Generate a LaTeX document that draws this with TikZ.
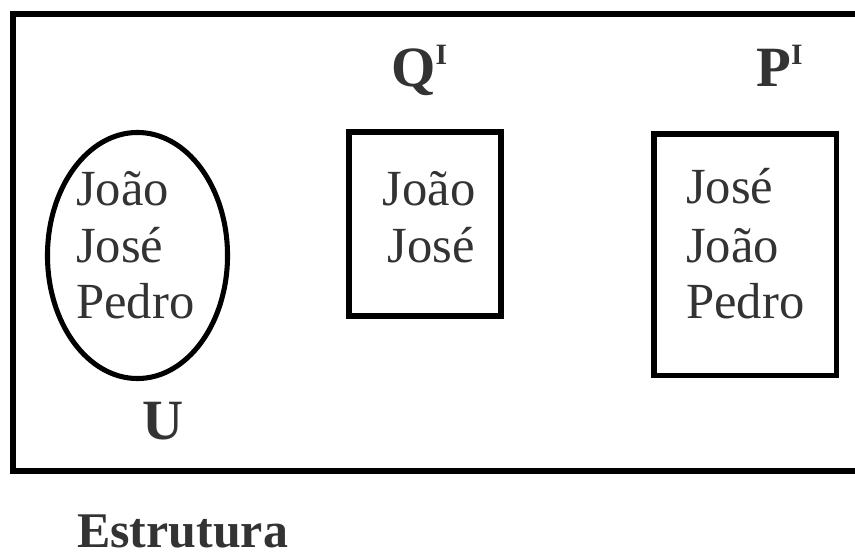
\documentclass[tikz,border=0pt]{standalone}
\usepackage{fontspec}
\setmainfont{Liberation Serif}
\usetikzlibrary{shapes.geometric, positioning}
\definecolor{inkgray}{HTML}{333333}
\newcommand{\interp}{\raisebox{15pt}{\fontsize{21}{21}\selectfont I}}

\begin{document}
\begin{tikzpicture}[
			x=0.025cm, y=-0.025cm,
			member/.style={font=\fontsize{36}{40}\selectfont, text=inkgray, inner sep=0pt, anchor=base west},
			setlabel/.style={font=\bfseries\fontsize{40.5}{44}\selectfont, text=inkgray, inner sep=0pt, anchor=base west},
			setbox/.style={rectangle, draw, line width=3.6pt, inner sep=0pt},
			]
			\useasboundingbox (0,0) rectangle (855,559);
			\clip (0,0) rectangle (855,559);
			
			% Frame of the structure
			\draw[line width=3.8pt] (900,14) -- (13,14) -- (13,471) -- (900,471);
			
			% Universe
			\node (U) [setbox, ellipse, minimum width=4.5cm, minimum height=6.15cm] at (137.5,255.5) {};
			\node (u1) [member] at (76,205) {João};
			\node (u2) [member] at (76,262) {José};
			\node (u3) [member] at (76,318) {Pedro};
			\node (Ulabel) [setlabel] at (142,439) {U};
			
			% Q
			\node (Q) [setbox, minimum width=3.8cm, minimum height=4.6cm] at (425,224) {};
			\node (q1) [member, anchor=base] at (429,205) {João};
			\node (q2) [member, anchor=base] at (431,262) {José};
			\node (Qlabel) [setlabel] at (391,86) {Q\interp};
			
			% P
			\node (P) [setbox, minimum width=4.55cm, minimum height=6.025cm] at (745,254.5) {};
			\node (p1) [member] at (686,203) {José};
			\node (p2) [member] at (686,262) {João};
			\node (p3) [member] at (686,318) {Pedro};
			\node (Plabel) [setlabel] at (756,86) {P\interp};
			
			% Caption
			\node (caption) [setlabel, font=\bfseries\fontsize{35.5}{40}\selectfont] at (77,547) {Estrutura};
		\end{tikzpicture}
\end{document}
